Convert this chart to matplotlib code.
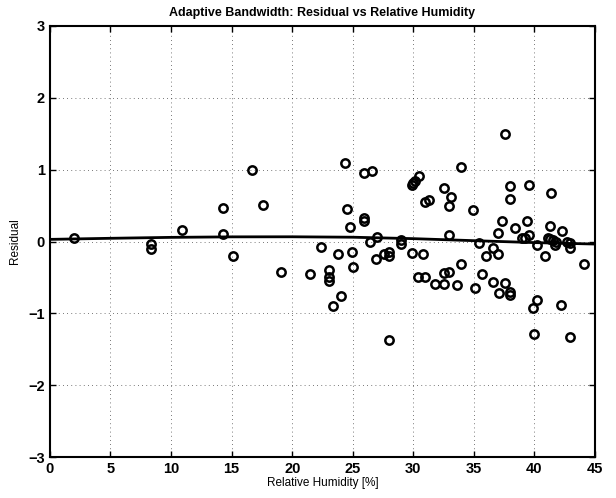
import matplotlib
matplotlib.use('Agg')
import matplotlib.pyplot as plt

# residuals
humidity = [2.0, 8.33, 8.33, 10.9, 14.3, 14.3, 15.1, 16.7, 17.56, 19.05,
            21.45, 22.4, 23.0, 23.0, 23.0, 23.4, 23.8, 24.0, 24.4, 24.55,
            24.8, 24.97, 25.0, 25.96, 26.6, 25.96, 25.96, 26.4, 27.0, 26.95,
            27.6, 28.0, 28.0, 28.0, 28.97, 28.97, 29.85, 29.9, 30.0, 30.15,
            30.5, 30.4, 30.8, 31.0, 30.98, 31.3, 31.8, 32.57, 32.57, 32.57,
            32.96, 33.1, 32.96, 32.96, 33.6, 33.95, 33.95, 34.9, 35.1, 35.4,
            35.7, 35.96, 36.57, 36.95, 36.6, 36.95, 37.1, 37.35, 37.56, 37.56,
            37.95, 37.95, 37.97, 37.97, 38.36, 38.97, 39.24, 39.38, 39.55, 39.55,
            39.84, 39.98, 40.2, 40.2, 40.9, 41.1, 41.28, 41.3, 41.36, 41.5,
            41.7, 41.8, 42.2, 42.3, 42.7, 42.96, 42.96, 42.9, 44.06]
residual = [0.056, -0.036, -0.10, 0.16, 0.46, 0.10, -0.20, 0.99, 0.51, -0.43,
            -0.455, -0.08, -0.40, -0.50, -0.55, -0.90, -0.17, -0.76, 1.09, 0.446,
            0.20, -0.14, -0.36, 0.954, 0.976, 0.326, 0.28, 0.0, 0.06, -0.25,
            -0.17, -0.15, -0.195, -1.37, 0.024, -0.032, -0.16, 0.78, 0.815, 0.837,
            0.906, -0.50, -0.167, -0.49, 0.544, 0.58, -0.585, 0.75, -0.585, -0.44,
            -0.42, 0.62, 0.50, 0.09, -0.60, 1.04, -0.315, 0.44, -0.64, -0.02,
            -0.45, -0.195, -0.09, -0.176, -0.566, 0.12, -0.715, 0.28, 1.49, -0.58,
            0.777, 0.59, -0.70, -0.75, 0.195, 0.047, 0.056, 0.285, 0.79, 0.093,
            -0.93, -1.29, -0.046, -0.81, -0.195, 0.047, 0.219, 0.033, 0.68, 0.02,
            -0.046, -0.01, -0.887, 0.153, 0.0, -0.014, -0.09, -1.325, -0.307]

# smoothed fit
fit_x = [0, 5, 10, 15, 20, 25, 30, 35, 40, 45]
fit_y = [0.03, 0.045, 0.058, 0.065, 0.066, 0.06, 0.04, 0.012, -0.015, -0.035]

xticks = [0, 5, 10, 15, 20, 25, 30, 35, 40, 45]
yticks = [-3, -2, -1, 0, 1, 2, 3]

plt.rcParams['font.family'] = ['Liberation Sans', 'DejaVu Sans']

fig = plt.figure(figsize=(6.16, 4.98), dpi=100)
ax = fig.add_axes([0.081, 0.082, 0.885, 0.866])

ax.plot(humidity, residual, 'o', markersize=6, markerfacecolor='none',
        markeredgecolor='black', markeredgewidth=1.8)
ax.plot(fit_x, fit_y, color='black', linewidth=2)

ax.set_xlim(0, 45)
ax.set_ylim(-3, 3)
ax.set_xticks(xticks)
ax.set_yticks(yticks)
ax.set_xticklabels([str(t) for t in xticks], fontweight='bold', fontsize=10.5)
ax.set_yticklabels([str(t).replace('-', '\u2212') for t in yticks],
                   fontweight='bold', fontsize=10.5)
ax.tick_params(direction='in', top=True, right=True, length=4, width=1)
ax.grid(True, linestyle=(0, (1, 4)), color='black', linewidth=0.6, alpha=0.7)
for s in ax.spines.values():
    s.set_linewidth(1.5)

ax.set_title('Adaptive Bandwidth: Residual vs Relative Humidity',
             fontweight='bold', fontsize=9, pad=7)
ax.set_xlabel('Relative Humidity [%]', fontsize=8.5, labelpad=1)
ax.set_ylabel('Residual', fontsize=8.5, labelpad=5)

fig.savefig('out.png', dpi=100)
